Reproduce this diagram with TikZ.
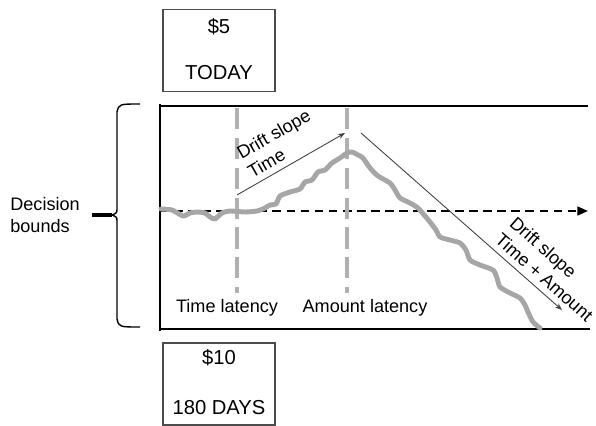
\documentclass[tikz,border=0pt]{standalone}
\usepackage{fontspec}
\setmainfont{Liberation Sans}
\usetikzlibrary{arrows.meta}

\definecolor{trace}{HTML}{A6A6A6}
\definecolor{latgray}{HTML}{B0B0B0}

\begin{document}
\begin{tikzpicture}[
    x=0.02cm, y=-0.02cm,
    font=\fontsize{10.3}{12.5}\selectfont,
    option/.style={rectangle, draw=black!70, line width=0.8pt, minimum width=2.24cm, minimum height=1.64cm},
    optiontext/.style={font=\fontsize{11.5}{14}\selectfont},
    bound/.style={line width=1.6pt},
    latency/.style={line width=2.6pt, latgray, dash pattern=on 12pt off 5pt},
    slope/.style={-{Stealth[length=4pt, width=3pt]}, black!75, line width=0.5pt},
    slopetext/.style={sloped, above, align=left, text=black},
    midline/.style={-{Triangle[length=6pt, width=5pt]}, line width=1.2pt, dash pattern=on 5pt off 3pt}
]
    \useasboundingbox (0,0) rectangle (596,426);

    % Options: sooner smaller vs later larger
    \node[option] (today) at (219,50.5) {};
    \node[optiontext] (todayamt) at (219,27) {\$5};
    \node[optiontext] (todaydelay) at (219,73) {TODAY};

    \node[option] (later) at (219,384) {};
    \node[optiontext] (lateramt) at (219,358) {\$10};
    \node[optiontext] (laterdelay) at (219,408) {180 DAYS};

    % Decision bounds
    \coordinate (ul) at (160,106);
    \coordinate (ur) at (588,106);
    \coordinate (ll) at (160,329);
    \coordinate (lr) at (590,329);
    \draw[bound] (ur) -- (ul);
    \draw[bound] ([yshift=1pt]ul) -- ([yshift=-1pt]ll);
    \draw[bound] (ll) -- (lr);

    % Brace and label
    \node[anchor=west, inner sep=0pt, align=left] (bounds) at (10,215) {Decision\\bounds};
    \coordinate (tip) at (112,215);
    \draw[line width=0.8pt] (140,104) .. controls (119,104) .. (117,112) -- (117,208) .. controls (117,213) .. (tip);
    \draw[line width=0.8pt] (140,327) .. controls (119,327) .. (117,319) -- (117,222) .. controls (117,217) .. (tip);
    \draw[line width=1.8pt] (92,215) -- (tip);

    % Starting point
    \coordinate (start) at (160,211);
    \coordinate (end) at (588,211);
    \draw[midline] (start) -- (end);

    % Latencies
    \coordinate (tlattop) at (237,108);
    \coordinate (tlatbot) at (237,293);
    \coordinate (alattop) at (347,108);
    \coordinate (alatbot) at (347,293);
    \draw[latency] (tlattop) -- (tlatbot);
    \draw[latency] (alattop) -- (alatbot);
    \node (tlat) at (227,308) {Time latency};
    \node (alat) at (365,308) {Amount latency};

    % Evidence trace
    \draw[trace, line width=2.8pt, line join=round, line cap=round] plot[smooth, tension=0.4] coordinates {
        (161,209) (172,210) (183,216) (190,213) (197,212) (205,213) (210,217) (215,219)
        (222,213) (230,211) (245,212) (257,211) (265,208) (270,205) (276,204) (280,196)
        (290,192) (300,189) (305,182) (312,180) (318,172) (325,170) (332,163) (340,158)
        (347,153) (352,152) (358,155) (363,158) (370,168) (378,176) (390,183) (395,190)
        (400,198) (410,203) (418,208) (425,216) (430,222) (436,230) (440,237) (450,240)
        (460,243) (466,250) (470,260) (480,265) (493,270) (497,278) (500,287) (510,293)
        (520,298) (525,305) (528,312) (533,322) (540,328)};

    % Drift slopes
    \coordinate (s1a) at (237,195);
    \coordinate (s1b) at (345,133);
    \draw[slope] (s1a) -- (s1b) node[midway, slopetext] {Drift slope\\Time};
    \coordinate (s2a) at (361,133);
    \coordinate (s2b) at (562,310);
    \draw[slope] (s2a) -- (s2b) node[pos=0.87, slopetext] {Drift slope\\Time + Amount};
\end{tikzpicture}
\end{document}
